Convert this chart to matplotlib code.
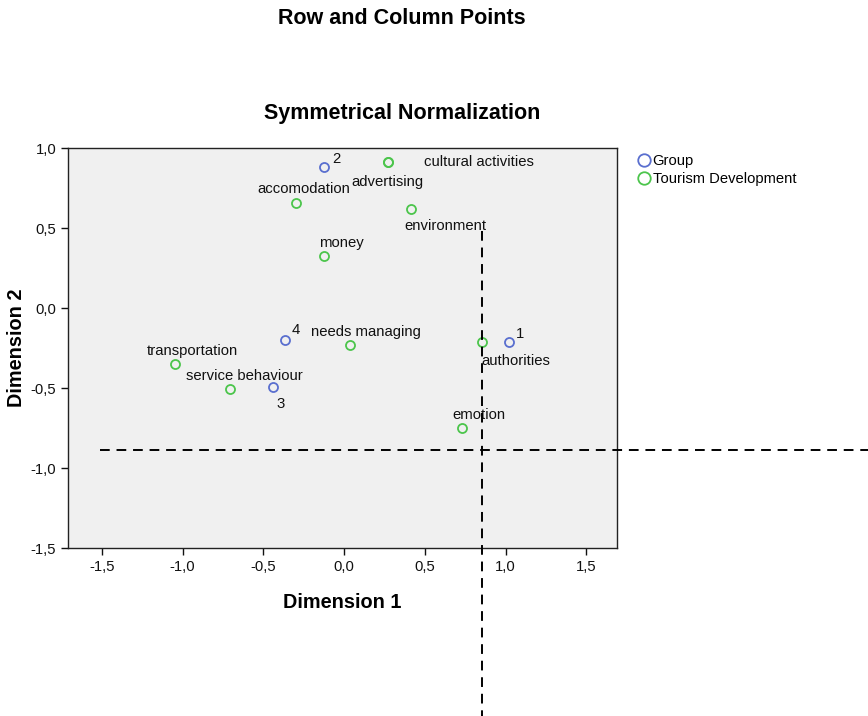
import matplotlib
matplotlib.use('Agg')
import matplotlib.pyplot as plt
from matplotlib.ticker import FuncFormatter
from matplotlib.lines import Line2D

plt.rcParams['font.family'] = ['Liberation Sans', 'DejaVu Sans']

# row points (Group)
group_labels = ['1', '2', '3', '4']
group_x = [1.02, -0.124, -0.442, -0.367]
group_y = [-0.211, 0.883, -0.494, -0.199]

# column points (Tourism Development)
tour_labels = ['cultural activities', 'advertising', 'accomodation', 'environment', 'money',
               'needs managing', 'transportation', 'service behaviour', 'authorities', 'emotion']
tour_x = [0.274, 0.270, -0.299, 0.417, -0.124, 0.037, -1.045, -0.709, 0.853, 0.728]
tour_y = [0.914, 0.910, 0.657, 0.620, 0.323, -0.230, -0.350, -0.507, -0.211, -0.752]

# reference lines
ref_x = 0.855
ref_y = -0.89

blue = '#5a6fcf'
green = '#4cc54c'

# label offsets in pixels (dx, dy, ha)
group_off = {'1': (7, 8, 'left'), '2': (8, 8, 'left'), '3': (4, -17, 'left'), '4': (7, 10, 'left')}
tour_off = {'cultural activities': (36, 0, 'left'), 'advertising': (0, -20, 'center'),
            'accomodation': (8, 14, 'center'), 'environment': (34, -17, 'center'),
            'money': (17, 13, 'center'), 'needs managing': (16, 13, 'center'),
            'transportation': (17, 13, 'center'), 'service behaviour': (15, 13, 'center'),
            'authorities': (34, -19, 'center'), 'emotion': (17, 13, 'center')}

fig = plt.figure(figsize=(8.68, 7.16), dpi=100)
ax = fig.add_axes([68 / 868, 1 - 548 / 716, (617 - 68) / 868, (548 - 148) / 716])
ax.set_facecolor('#f0f0f0')

ax.plot(tour_x, tour_y, 'o', ms=6.5, mfc='none', mec=green, mew=1.3, zorder=3)
ax.plot(group_x, group_y, 'o', ms=6.5, mfc='none', mec=blue, mew=1.3, zorder=3)

for lab, x, y in zip(tour_labels, tour_x, tour_y):
    dx, dy, ha = tour_off[lab]
    ax.annotate(lab, (x, y), xytext=(dx, dy), textcoords='offset pixels',
                ha=ha, va='center', fontsize=10.7, color='#111111')
for lab, x, y in zip(group_labels, group_x, group_y):
    dx, dy, ha = group_off[lab]
    ax.annotate(lab, (x, y), xytext=(dx, dy), textcoords='offset pixels',
                ha=ha, va='center', fontsize=10.7, color='#111111')

ax.plot([-1.51, 3.5], [ref_y, ref_y], ls=(0, (5, 3.5)), color='black', lw=1.4, clip_on=False, zorder=4)
ax.plot([ref_x, ref_x], [0.48, -3.0], ls=(0, (5, 3.5)), color='black', lw=1.4, clip_on=False, zorder=4)

ax.set_xlim(-1.71, 1.69)
ax.set_ylim(-1.5, 1.0)
ax.set_xticks([-1.5, -1.0, -0.5, 0.0, 0.5, 1.0, 1.5])
ax.set_yticks([-1.5, -1.0, -0.5, 0.0, 0.5, 1.0])
fmt = FuncFormatter(lambda v, p: f'{v:.1f}'.replace('.', ','))
ax.xaxis.set_major_formatter(fmt)
ax.yaxis.set_major_formatter(fmt)
ax.tick_params(direction='out', length=5, width=1, labelsize=10.7, colors='#111111')
for s in ax.spines.values():
    s.set_color('#222222')
    s.set_linewidth(1)

ax.set_xlabel('Dimension 1', fontsize=14.3, fontweight='bold', labelpad=14)
ax.set_ylabel('Dimension 2', fontsize=14.3, fontweight='bold', labelpad=3)

fig.text(402 / 868, 1 - 18 / 716, 'Row and Column Points', ha='center', va='center',
         fontsize=15.5, fontweight='bold')
fig.text(402 / 868, 1 - 114 / 716, 'Symmetrical Normalization', ha='center', va='center',
         fontsize=15.5, fontweight='bold')

handles = [Line2D([], [], ls='none', marker='o', ms=9, mfc='none', mec=blue, mew=1.3),
           Line2D([], [], ls='none', marker='o', ms=9, mfc='none', mec=green, mew=1.3)]
fig.legend(handles, ['Group', 'Tourism Development'], loc='upper left',
           bbox_to_anchor=(629 / 868, 1 - 148 / 716), frameon=False, fontsize=10.6,
           handletextpad=0.0, labelspacing=0.3, handlelength=1.2, borderaxespad=0)

fig.savefig('out.png', dpi=100)
